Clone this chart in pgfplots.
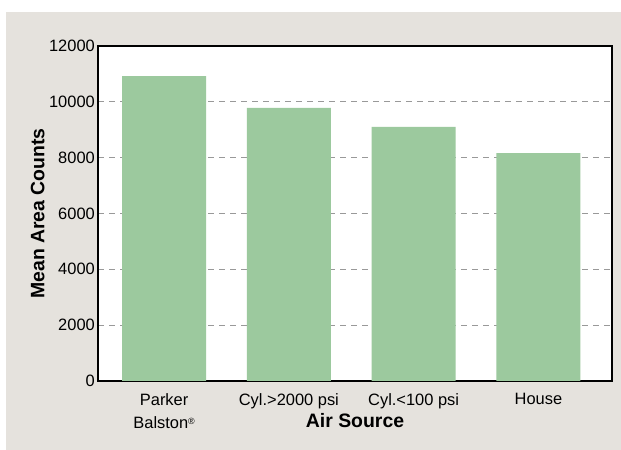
\documentclass[border=0pt]{standalone}
\usepackage{pgfplots}
\pgfplotsset{compat=1.18}
\usepackage{fontspec}
\setmainfont{Liberation Sans}

\definecolor{panelgray}{HTML}{E5E2DD}
\definecolor{barGreen}{HTML}{9CC99E}
\definecolor{gridgray}{HTML}{999999}

\newcommand{\reg}{\raisebox{4bp}{\fontsize{9}{9}\selectfont\textregistered}}

\begin{document}
\begin{tikzpicture}[x=1bp,y=1bp]
  % page size and grey panel
  \path (0,0) rectangle (621,450);
  \fill[panelgray] (6,0) rectangle (621,438);

  \begin{axis}[
      at={(98bp,69bp)}, anchor=south west,
      scale only axis,
      width=514bp, height=335bp,
      ymin=0, ymax=12000,
      xmin=-0.53, xmax=3.59,
      ytick={0,2000,...,12000},
      scaled y ticks=false,
      xtick=data,
      xticklabels={{Parker\\Balston\reg},{Cyl.>2000 psi},{Cyl.<100 psi},{House}},
      xticklabel style={align=center, anchor=north, yshift=-9bp,
        font=\fontsize{16.5}{23}\selectfont},
      major tick length=0pt,
      tick style={draw=none},
      ymajorgrids,
      grid style={gridgray, line width=1.2bp, dash pattern=on 6bp off 5bp},
      axis line style={line width=2bp},
      axis background/.style={fill=white},
      /pgf/number format/assume math mode=true,
      yticklabel style={/pgf/number format/1000 sep={}, font=\fontsize{16.5}{18}\selectfont},
      xlabel={\textbf{Air Source}},
      ylabel={\textbf{Mean Area Counts}},
      label style={font=\fontsize{19.5}{22}\selectfont},
      xlabel style={at={(axis description cs:0.5,0)}, anchor=base, yshift=-47bp},
      ylabel style={yshift=-2bp},
      tick label style={inner sep=3bp},
    ]
    \addplot[ybar, bar width=84bp, fill=barGreen, draw=none] coordinates {
      (0,10920) (1,9780) (2,9100) (3,8165)
    };
  \end{axis}
\end{tikzpicture}
\end{document}
